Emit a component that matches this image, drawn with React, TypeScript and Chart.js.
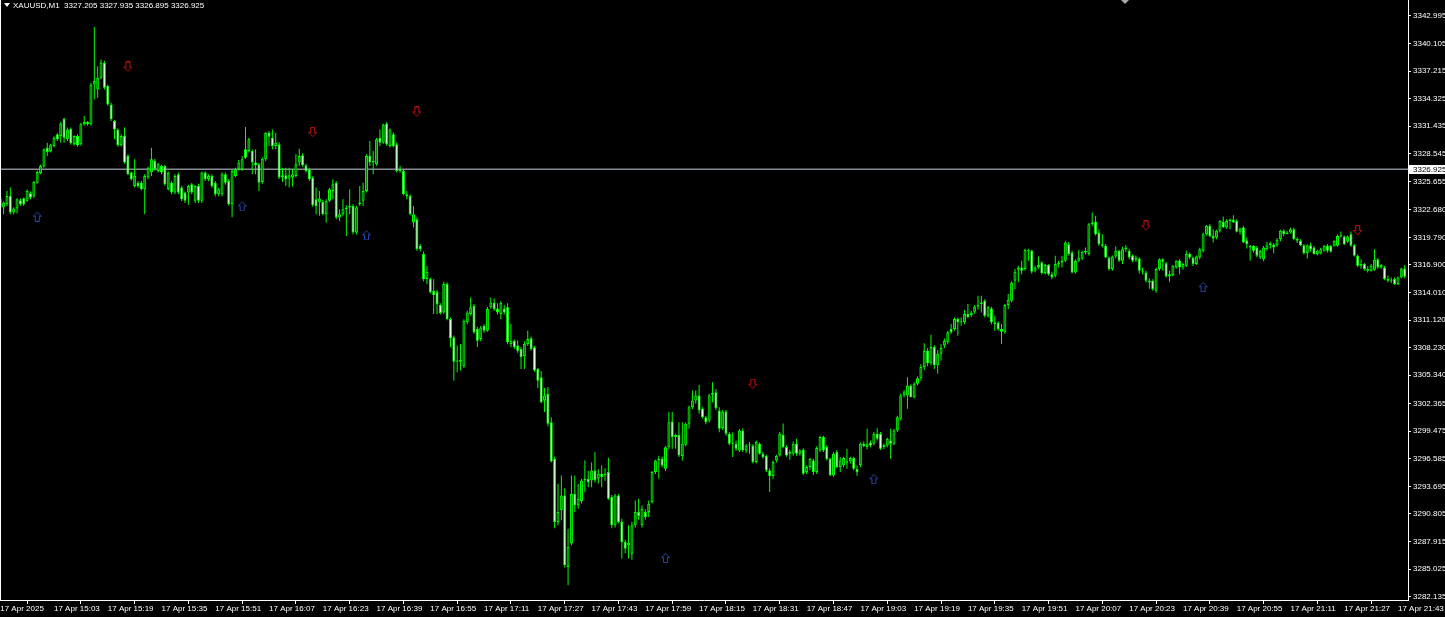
import React, { useEffect, useRef } from "react";
import { Chart, registerables } from "chart.js";

Chart.register(...registerables);

// ---------- header ----------
const symbolName = "XAUUSD,M1";
const headerQuote = ["3327.205", "3327.935", "3326.895", "3326.925"];
const currentPrice = 3326.925;

// ---------- OHLC (one-minute bars, 17 Apr 14:47 .. 21:45) ----------
const opens = [
3323.89,3322.92,3323.27,3324.14,3322.40,3322.81,3323.69,3323.89,3323.62,3324.42,
3324.07,3325.53,3326.51,3327.21,3329.19,3328.85,3329.37,3330.59,3330.42,3332.23,
3330.07,3331.18,3329.54,3330.42,3329.54,3331.64,3331.88,3331.64,3335.82,3335.30,
3336.52,3338.09,3335.65,3333.73,3331.98,3331.11,3329.44,3330.42,3328.32,3326.58,
3325.18,3325.53,3325.53,3324.84,3326.06,3326.58,3327.80,3326.75,3327.28,3327.28,
3324.84,3325.53,3324.49,3326.41,3325.01,3324.49,3324.49,3325.36,3323.62,3325.18,
3323.62,3326.58,3325.88,3326.23,3325.53,3324.31,3324.31,3326.41,3325.71,3323.27,
3326.23,3326.93,3326.93,3329.02,3328.85,3328.85,3327.63,3327.45,3325.60,3327.97,
3330.76,3330.24,3329.37,3329.54,3326.06,3326.30,3325.95,3326.06,3326.23,3327.63,
3328.39,3327.35,3326.93,3326.06,3323.79,3323.44,3323.51,3322.22,3323.62,3324.66,
3325.53,3321.87,3322.22,3322.74,3322.92,3323.09,3320.30,3323.27,3323.62,3324.66,
3328.32,3327.63,3327.45,3330.24,3329.72,3331.74,3329.37,3330.59,3329.54,3326.75,
3326.75,3324.31,3324.14,3321.35,3321.70,3318.91,3318.04,3315.42,3315.42,3314.20,
3314.09,3312.70,3311.93,3314.90,3311.24,3309.32,3306.88,3306.77,3306.28,3310.89,
3311.76,3312.63,3310.19,3309.14,3310.54,3310.01,3312.46,3312.91,3312.35,3311.76,
3312.35,3312.46,3308.62,3308.97,3308.45,3308.10,3307.33,3308.62,3309.21,3308.27,
3306.01,3305.13,3302.69,3303.39,3300.43,3296.59,3289.97,3291.19,3292.75,3285.26,
3287.70,3292.93,3291.71,3292.13,3294.32,3294.50,3294.32,3295.37,3294.50,3295.02,
3294.85,3295.20,3292.58,3289.62,3292.75,3289.97,3287.87,3287.52,3286.65,3289.62,
3291.01,3289.62,3291.01,3291.01,3292.06,3295.20,3296.42,3296.59,3295.54,3297.81,
3300.50,3298.86,3299.10,3296.87,3298.06,3300.26,3302.00,3302.70,3303.22,3301.83,
3300.95,3300.61,3303.29,3303.57,3301.65,3299.80,3301.55,3299.21,3298.16,3298.16,
3297.47,3299.56,3297.47,3297.99,3297.99,3296.25,3298.16,3297.12,3296.87,3295.37,
3294.78,3296.42,3296.94,3299.11,3297.82,3297.12,3297.12,3298.16,3297.12,3297.54,
3295.20,3295.72,3296.42,3295.20,3297.47,3298.86,3297.82,3296.59,3294.85,3297.29,
3295.72,3295.90,3296.32,3296.32,3296.66,3295.55,3295.90,3298.16,3297.82,3298.27,
3298.16,3299.21,3299.21,3297.82,3297.99,3298.51,3298.16,3299.56,3300.78,3303.22,
3303.22,3304.27,3303.05,3304.44,3305.03,3306.20,3307.90,3306.60,3308.30,3306.40,
3307.60,3308.45,3308.80,3310.19,3310.19,3311.24,3310.89,3310.89,3311.76,3311.66,
3312.00,3312.56,3312.81,3313.15,3311.59,3312.35,3310.89,3310.82,3310.19,3309.84,
3312.70,3313.15,3315.25,3316.40,3316.64,3316.47,3318.49,3318.39,3316.29,3316.64,
3317.16,3316.05,3316.89,3315.94,3315.77,3316.99,3317.16,3317.34,3319.08,3318.21,
3316.12,3317.34,3317.58,3318.21,3318.04,3321.17,3321.42,3320.30,3319.08,3318.91,
3317.69,3316.47,3317.79,3318.39,3317.34,3318.56,3318.39,3317.86,3317.44,3317.58,
3316.29,3316.12,3315.25,3315.25,3314.20,3316.47,3317.51,3317.09,3315.70,3315.84,
3316.64,3317.34,3316.64,3316.82,3318.04,3317.69,3316.99,3317.69,3318.39,3320.13,
3321.00,3319.95,3319.78,3320.48,3321.42,3320.83,3321.52,3321.63,3321.52,3320.37,
3320.83,3319.50,3318.91,3318.91,3318.73,3317.69,3317.51,3318.56,3318.98,3319.01,
3318.98,3319.61,3320.48,3320.13,3320.30,3320.65,3319.61,3319.43,3318.98,3318.14,
3318.98,3318.73,3318.04,3318.14,3318.39,3318.91,3318.91,3318.91,3318.91,3320.02,
3319.88,3319.33,3320.13,3318.98,3317.86,3316.82,3316.99,3316.47,3316.29,3316.40,
3317.51,3316.64,3316.64,3315.42,3315.25,3315.42,3314.90,3315.60,3316.54
];

const highs = [
3323.96,3323.55,3324.66,3325.01,3322.95,3323.90,3323.90,3323.96,3324.80,3324.60,
3325.70,3326.80,3327.40,3329.10,3329.72,3329.60,3330.40,3330.70,3331.88,3332.33,
3331.30,3331.30,3330.50,3330.60,3331.80,3332.51,3332.00,3336.00,3341.85,3337.74,
3338.44,3338.30,3335.80,3333.90,3332.10,3331.20,3330.60,3331.30,3328.50,3326.70,
3327.97,3325.70,3325.70,3326.40,3327.20,3329.19,3328.00,3327.60,3327.40,3327.40,
3326.70,3325.70,3326.40,3326.60,3325.20,3324.60,3325.30,3325.50,3325.30,3325.40,
3326.70,3326.70,3326.40,3326.40,3325.70,3325.00,3326.60,3326.60,3325.90,3326.90,
3327.10,3327.90,3328.32,3331.36,3330.20,3329.00,3329.02,3327.60,3328.20,3330.83,
3330.94,3331.11,3330.76,3329.80,3327.10,3327.10,3327.10,3326.93,3328.50,3329.09,
3328.60,3327.50,3327.10,3326.20,3325.01,3324.66,3323.70,3323.80,3325.00,3325.88,
3325.70,3322.74,3323.79,3323.16,3324.84,3323.30,3323.10,3325.18,3325.53,3328.50,
3329.89,3328.85,3330.20,3331.11,3331.70,3331.88,3331.20,3330.80,3329.70,3327.30,
3326.90,3324.66,3324.30,3323.09,3321.90,3319.10,3318.30,3316.80,3315.60,3315.40,
3314.30,3312.90,3315.14,3315.10,3311.40,3309.50,3308.45,3308.62,3311.20,3312.10,
3313.50,3312.80,3310.40,3310.50,3310.70,3312.50,3313.50,3313.40,3312.90,3313.10,
3312.70,3312.90,3310.71,3309.10,3309.00,3308.30,3308.90,3310.00,3309.40,3308.40,
3306.10,3305.80,3304.00,3304.10,3300.95,3296.80,3293.97,3294.85,3293.50,3289.27,
3294.85,3294.85,3293.97,3294.50,3296.42,3295.30,3296.20,3297.30,3295.50,3295.90,
3295.60,3296.70,3292.80,3292.90,3292.90,3290.30,3288.10,3289.62,3290.00,3292.23,
3292.40,3291.70,3291.30,3292.23,3295.30,3296.50,3296.90,3296.80,3297.90,3301.50,
3301.48,3299.21,3300.43,3300.43,3300.40,3302.17,3303.74,3303.74,3304.34,3302.00,
3301.10,3303.40,3304.61,3303.90,3302.00,3301.70,3301.70,3299.40,3299.38,3298.50,
3299.70,3299.80,3298.10,3298.34,3298.10,3298.50,3298.30,3297.30,3297.00,3295.60,
3296.40,3297.00,3299.40,3300.30,3298.00,3297.50,3298.40,3298.70,3297.60,3297.70,
3295.90,3296.70,3296.60,3297.90,3299.00,3299.00,3298.00,3296.70,3297.30,3297.50,
3296.77,3296.80,3297.64,3296.80,3296.80,3295.90,3298.30,3298.40,3299.73,3298.50,
3299.40,3299.80,3299.40,3298.20,3298.80,3299.73,3299.70,3301.10,3303.40,3303.80,
3305.14,3304.40,3304.60,3305.20,3306.50,3308.70,3308.20,3309.60,3308.50,3308.00,
3308.60,3309.20,3310.02,3310.71,3311.40,3311.40,3311.41,3312.18,3312.81,3312.10,
3312.70,3313.68,3313.68,3313.30,3312.60,3312.50,3311.59,3311.00,3310.71,3312.80,
3313.85,3315.20,3316.47,3316.82,3317.34,3318.60,3318.60,3318.50,3316.82,3317.79,
3317.30,3317.00,3317.00,3316.20,3317.86,3317.34,3317.86,3319.40,3319.30,3318.40,
3317.50,3318.49,3318.40,3318.73,3321.30,3322.40,3322.05,3320.65,3320.13,3319.10,
3317.80,3317.90,3318.84,3318.50,3318.80,3318.97,3318.60,3318.00,3317.90,3317.70,
3316.60,3316.30,3315.50,3315.40,3316.60,3317.60,3317.60,3317.20,3316.29,3316.90,
3317.40,3317.50,3317.10,3318.39,3318.20,3317.80,3317.90,3318.70,3320.30,3321.10,
3321.20,3320.65,3320.60,3321.60,3321.98,3321.70,3321.77,3322.12,3321.70,3320.80,
3321.00,3319.78,3319.00,3318.98,3318.90,3318.50,3318.90,3319.30,3319.33,3319.20,
3319.70,3320.60,3320.65,3320.50,3320.80,3320.80,3319.80,3319.60,3319.10,3319.08,
3319.26,3318.90,3318.50,3318.70,3319.00,3319.10,3319.00,3319.50,3320.10,3320.40,
3320.00,3320.00,3320.40,3319.10,3318.00,3317.51,3317.10,3316.80,3316.99,3318.56,
3317.60,3317.00,3316.80,3315.80,3315.60,3315.60,3315.70,3316.60,3316.90
];

const lows = [
3322.22,3322.22,3323.09,3322.22,3322.20,3322.30,3323.10,3323.09,3323.50,3323.80,
3323.95,3325.40,3326.40,3327.10,3328.32,3328.70,3329.20,3329.90,3329.72,3329.72,
3329.90,3329.50,3329.40,3329.30,3329.40,3331.50,3331.50,3331.50,3334.25,3334.43,
3336.40,3335.30,3333.60,3332.00,3330.07,3329.30,3329.30,3327.50,3326.30,3325.75,
3325.01,3325.00,3324.70,3322.22,3325.90,3326.23,3326.80,3326.60,3326.40,3325.20,
3324.70,3324.30,3324.30,3324.30,3323.60,3323.40,3323.20,3324.30,3323.40,3323.40,
3323.40,3325.70,3325.70,3325.00,3324.10,3324.10,3324.10,3325.30,3323.10,3321.90,
3326.10,3326.80,3326.75,3328.00,3328.70,3326.40,3326.40,3324.66,3325.40,3327.80,
3329.37,3329.02,3329.02,3325.90,3325.60,3325.18,3325.01,3325.11,3326.06,3327.28,
3327.20,3326.60,3325.70,3323.00,3322.22,3322.05,3322.10,3321.35,3323.50,3323.79,
3321.70,3321.52,3322.05,3319.95,3322.22,3320.10,3320.10,3323.09,3323.09,3324.50,
3327.28,3326.40,3327.30,3329.37,3329.60,3329.40,3329.20,3329.20,3326.60,3326.60,
3324.20,3323.79,3322.10,3320.82,3318.40,3318.30,3315.20,3314.90,3313.90,3311.76,
3311.76,3311.70,3311.80,3311.10,3308.27,3304.78,3305.66,3305.83,3306.10,3310.70,
3311.60,3309.70,3308.30,3308.90,3309.80,3309.90,3312.30,3312.10,3311.70,3311.20,
3311.70,3308.60,3308.27,3308.10,3307.70,3306.00,3306.00,3308.40,3307.90,3305.70,
3304.00,3302.40,3301.50,3300.00,3296.20,3289.30,3289.62,3290.14,3285.20,3283.34,
3287.52,3291.01,3291.36,3291.90,3293.10,3293.60,3293.60,3294.10,3294.00,3293.60,
3294.30,3292.30,3289.30,3289.40,3289.80,3286.13,3286.70,3286.13,3286.00,3289.40,
3290.20,3289.40,3290.20,3290.49,3291.90,3295.00,3294.50,3295.70,3295.30,3297.60,
3297.64,3297.64,3296.77,3296.42,3297.90,3299.73,3301.80,3302.35,3301.30,3300.80,
3300.20,3300.40,3302.52,3301.70,3299.38,3299.60,3299.00,3298.00,3296.77,3297.40,
3297.30,3297.30,3297.20,3297.12,3296.10,3296.10,3297.00,3296.60,3295.20,3293.11,
3294.50,3296.20,3296.80,3297.70,3296.80,3296.50,3296.90,3296.90,3296.90,3294.90,
3295.00,3295.40,3294.90,3295.00,3297.30,3297.30,3296.40,3294.80,3294.70,3295.60,
3295.20,3295.70,3295.55,3296.10,3295.40,3294.80,3295.70,3297.80,3297.60,3297.80,
3298.00,3298.50,3297.50,3297.60,3297.80,3296.59,3298.00,3299.40,3300.60,3303.00,
3301.83,3303.00,3302.90,3304.30,3304.80,3305.90,3306.30,3306.40,3306.00,3305.50,
3306.90,3308.20,3308.60,3309.67,3310.00,3309.49,3310.54,3310.70,3311.31,3311.41,
3311.80,3312.20,3311.93,3311.40,3311.40,3310.70,3310.02,3310.00,3308.62,3309.70,
3312.28,3313.00,3314.38,3315.07,3315.94,3316.30,3317.34,3316.00,3316.12,3316.50,
3315.90,3315.90,3315.80,3315.40,3315.60,3316.64,3316.64,3317.20,3317.90,3316.00,
3316.00,3317.23,3317.40,3318.00,3317.90,3321.00,3320.00,3318.91,3318.73,3317.60,
3316.30,3316.30,3317.60,3317.20,3316.99,3318.28,3317.50,3317.20,3317.20,3316.00,
3315.90,3315.10,3314.40,3314.20,3314.00,3316.30,3316.30,3315.60,3315.14,3315.70,
3316.50,3315.94,3316.40,3316.70,3317.50,3316.80,3316.90,3317.50,3318.20,3320.00,
3319.80,3319.26,3319.60,3320.30,3320.80,3320.70,3320.65,3321.30,3320.30,3320.10,
3319.20,3318.63,3317.34,3318.21,3317.70,3317.50,3317.30,3318.40,3318.60,3318.14,
3318.80,3319.40,3319.95,3320.13,3320.20,3319.50,3319.20,3318.90,3318.00,3317.58,
3318.28,3318.00,3317.90,3318.00,3318.30,3318.20,3318.20,3318.80,3318.80,3319.80,
3319.00,3319.20,3318.80,3317.80,3316.70,3316.50,3316.30,3316.10,3316.20,3316.30,
3316.50,3316.50,3315.30,3315.10,3315.00,3314.80,3314.80,3315.50,3315.50
];

const closes = [
3322.92,3323.44,3324.14,3322.40,3322.81,3323.79,3323.27,3323.27,3324.66,3323.96,
3325.60,3326.65,3327.28,3329.02,3328.74,3329.44,3330.24,3330.07,3331.74,3330.24,
3331.11,3329.65,3330.42,3329.44,3331.64,3331.88,3331.64,3335.82,3336.17,3336.52,
3338.09,3335.47,3333.73,3332.16,3331.11,3329.44,3330.42,3327.63,3326.41,3325.88,
3326.23,3325.18,3324.84,3326.23,3327.10,3327.97,3326.93,3327.45,3326.58,3325.36,
3326.58,3324.49,3326.23,3324.49,3323.79,3323.62,3325.18,3324.49,3325.18,3323.62,
3326.58,3325.88,3326.23,3325.18,3324.31,3324.84,3326.41,3325.53,3323.27,3326.75,
3326.93,3327.63,3327.97,3328.15,3330.07,3327.63,3327.35,3325.53,3328.04,3330.76,
3330.34,3329.37,3329.72,3326.06,3326.30,3325.88,3326.30,3326.40,3327.45,3328.32,
3327.35,3326.75,3325.88,3323.16,3323.09,3323.86,3322.22,3323.62,3324.84,3325.36,
3321.87,3322.22,3322.74,3322.92,3323.09,3320.30,3322.92,3323.44,3324.66,3328.32,
3327.63,3327.80,3330.07,3329.72,3331.63,3329.54,3331.11,3329.37,3326.75,3326.93,
3324.31,3324.14,3322.22,3322.22,3318.56,3318.56,3315.42,3316.20,3314.03,3313.75,
3312.80,3311.86,3314.90,3311.24,3309.21,3306.77,3306.77,3306.95,3311.06,3311.93,
3312.46,3309.84,3308.97,3310.36,3310.01,3312.28,3312.98,3312.28,3311.93,3312.91,
3311.93,3308.79,3308.97,3308.27,3307.92,3307.23,3308.62,3309.14,3308.10,3305.83,
3304.78,3302.52,3303.22,3300.25,3296.31,3289.97,3291.01,3292.75,3285.43,3287.35,
3292.93,3291.71,3292.41,3294.32,3294.50,3294.15,3295.37,3294.32,3295.02,3294.67,
3295.02,3292.41,3289.62,3292.75,3289.97,3287.87,3287.17,3287.80,3289.62,3291.01,
3290.59,3291.36,3290.49,3291.88,3295.20,3296.42,3296.59,3295.89,3297.81,3300.43,
3298.86,3299.10,3296.94,3298.16,3300.26,3302.00,3302.70,3303.22,3301.65,3300.95,
3300.43,3303.22,3303.50,3301.90,3299.73,3301.55,3299.21,3298.16,3298.27,3297.64,
3299.56,3297.47,3297.99,3298.06,3296.25,3298.34,3297.12,3296.77,3295.37,3294.78,
3296.25,3296.87,3299.21,3297.82,3296.94,3297.29,3298.16,3297.12,3297.47,3295.03,
3295.72,3296.59,3295.20,3297.71,3298.86,3297.47,3296.53,3294.85,3297.12,3295.72,
3296.42,3296.66,3296.18,3296.66,3295.55,3295.20,3298.16,3297.92,3298.16,3297.99,
3299.21,3298.69,3297.64,3298.06,3298.69,3298.16,3299.56,3300.95,3303.22,3303.57,
3304.27,3303.05,3304.44,3305.03,3306.20,3307.90,3306.60,3308.30,3306.40,3307.60,
3308.20,3308.97,3309.84,3309.84,3311.24,3310.89,3310.96,3311.76,3311.41,3311.93,
3312.56,3312.70,3312.98,3311.59,3312.46,3310.89,3310.71,3310.19,3309.91,3312.70,
3313.22,3315.07,3316.19,3316.64,3316.29,3318.49,3318.39,3316.19,3316.64,3316.89,
3316.05,3316.89,3315.94,3315.60,3316.99,3317.16,3317.34,3319.26,3318.04,3316.12,
3317.34,3317.69,3318.28,3318.39,3321.17,3321.35,3320.13,3319.08,3318.91,3317.69,
3316.47,3317.79,3318.39,3317.34,3318.56,3318.73,3317.69,3317.34,3317.69,3316.29,
3316.19,3315.25,3315.07,3314.38,3316.47,3317.51,3317.23,3315.70,3315.94,3316.82,
3317.34,3316.64,3316.99,3318.04,3317.69,3316.99,3317.79,3318.56,3320.13,3321.00,
3319.95,3319.68,3320.48,3321.52,3320.83,3321.52,3321.63,3321.35,3320.37,3320.72,
3319.26,3319.08,3318.73,3318.39,3317.86,3318.39,3318.73,3318.98,3319.19,3318.73,
3319.54,3320.48,3320.13,3320.30,3320.65,3319.61,3319.43,3318.98,3318.14,3318.98,
3318.56,3318.04,3318.39,3318.56,3318.91,3318.39,3318.28,3319.43,3319.95,3319.88,
3319.08,3319.88,3318.91,3317.86,3316.82,3316.99,3316.47,3316.29,3316.82,3317.44,
3316.64,3316.89,3315.42,3315.25,3315.35,3314.90,3315.60,3316.54,3315.70
];

// ---------- signal arrows (bar index, price) ----------
const sellArrowBars = [38, 93, 124, 224, 341, 404];
const sellArrowPrices = [3337.65, 3330.80, 3332.94, 3304.41, 3321.00, 3320.52];
const buyArrowBars = [11, 72, 109, 198, 260, 358];
const buyArrowPrices = [3322.01, 3323.09, 3320.05, 3286.24, 3294.50, 3314.62];

// ---------- axes ----------
const priceTicks = [
  3342.995, 3340.105, 3337.215, 3334.325, 3331.435, 3328.545, 3325.655,
  3322.680, 3319.790, 3316.900, 3314.010, 3311.120, 3308.230, 3305.340,
  3302.365, 3299.475, 3296.585, 3293.695, 3290.805, 3287.915, 3285.025, 3282.135,
];
const timeTickBars = [
  0, 16, 32, 48, 64, 80, 96, 112, 128, 144, 160, 176, 192, 208,
  224, 240, 256, 272, 288, 304, 320, 336, 352, 368, 384, 400, 416,
];
const timeTickLabels = [
  "17 Apr 2025", "17 Apr 15:03", "17 Apr 15:19", "17 Apr 15:35", "17 Apr 15:51",
  "17 Apr 16:07", "17 Apr 16:23", "17 Apr 16:39", "17 Apr 16:55", "17 Apr 17:11",
  "17 Apr 17:27", "17 Apr 17:43", "17 Apr 17:59", "17 Apr 18:15", "17 Apr 18:31",
  "17 Apr 18:47", "17 Apr 19:03", "17 Apr 19:19", "17 Apr 19:35", "17 Apr 19:51",
  "17 Apr 20:07", "17 Apr 20:23", "17 Apr 20:39", "17 Apr 20:55", "17 Apr 21:11",
  "17 Apr 21:27", "17 Apr 21:43",
];
const priceMin = 3281.79;
const priceMax = 3344.67;
const barMin = -0.07;
const barMax = 418.98;

const FONT = { family: "'Liberation Sans', Arial, sans-serif", size: 8 };
const LIME = "#00ff00";
const BULL_FILL = "#007a00";
const BEAR_FILL = "#e4ffe4";

function makeArrow(color: string, up: boolean): HTMLCanvasElement {
  const c = document.createElement("canvas");
  c.width = 9;
  c.height = 11;
  const g = c.getContext("2d")!;
  const pts: [number, number][] = [
    [2.5, 0.5], [6.5, 0.5], [6.5, 5.5], [8.5, 5.5], [4.5, 9.8], [0.5, 5.5], [2.5, 5.5],
  ];
  g.strokeStyle = color;
  g.lineWidth = 1;
  g.beginPath();
  pts.forEach(([x, y], i) => {
    const yy = up ? 11 - y : y;
    if (i === 0) g.moveTo(x, yy);
    else g.lineTo(x, yy);
  });
  g.closePath();
  g.stroke();
  return c;
}

const decorPlugin = {
  id: "mtDecor",
  beforeDraw(chart: any) {
    const ctx = chart.ctx;
    ctx.save();
    ctx.fillStyle = "#000000";
    ctx.fillRect(0, 0, chart.width, chart.height);
    ctx.restore();
  },
  afterDraw(chart: any) {
    const ctx = chart.ctx;
    const area = chart.chartArea;
    const ys = chart.scales.y;
    ctx.save();
    // left frame line
    ctx.fillStyle = "#ffffff";
    ctx.fillRect(0, area.top, 1, area.bottom - area.top);
    // chart shift marker
    ctx.fillStyle = "#a8a8a8";
    ctx.beginPath();
    ctx.moveTo(1121, 0);
    ctx.lineTo(1129, 0);
    ctx.lineTo(1125, 4);
    ctx.closePath();
    ctx.fill();
    // current price label
    const py = Math.round(ys.getPixelForValue(currentPrice));
    ctx.fillStyle = "#ffffff";
    ctx.fillRect(area.right + 1, py - 4, chart.width - area.right - 1, 9);
    ctx.fillStyle = "#000000";
    ctx.font = "8px 'Liberation Sans', Arial, sans-serif";
    ctx.textBaseline = "middle";
    ctx.textAlign = "left";
    ctx.fillText(currentPrice.toFixed(3), area.right + 5, py + 0.5);
    ctx.restore();
  },
};

export default function App() {
  const canvasRef = useRef<HTMLCanvasElement | null>(null);

  useEffect(() => {
    const canvas = canvasRef.current;
    if (!canvas) return;
    const idx = opens.map((_, i) => i);
    const wickData = idx.map((i) => ({ x: i, y: [lows[i], highs[i]] }));
    const bodyData = idx.map((i) => ({ x: i, y: [opens[i], closes[i]] }));
    const bodyFill = idx.map((i) => (closes[i] >= opens[i] ? BULL_FILL : BEAR_FILL));
    const sellData = sellArrowBars.map((b, i) => ({ x: b, y: sellArrowPrices[i] }));
    const buyData = buyArrowBars.map((b, i) => ({ x: b, y: buyArrowPrices[i] }));

    const chart = new Chart(canvas, {
      type: "bar",
      data: {
        datasets: [
          {
            type: "scatter",
            data: sellData,
            pointStyle: makeArrow("#c81010", false) as any,
            pointRadius: 5,
            order: 0,
          } as any,
          {
            type: "scatter",
            data: buyData,
            pointStyle: makeArrow("#2a48a8", true) as any,
            pointRadius: 5,
            order: 0,
          } as any,
          {
            type: "bar",
            data: bodyData,
            backgroundColor: bodyFill,
            borderColor: LIME,
            borderWidth: 1,
            borderSkipped: false,
            barThickness: 3,
            minBarLength: 1,
            inflateAmount: 0,
            grouped: false,
            order: 1,
          } as any,
          {
            type: "bar",
            data: wickData,
            backgroundColor: LIME,
            borderWidth: 0,
            barThickness: 1,
            minBarLength: 1,
            inflateAmount: 0,
            grouped: false,
            order: 2,
          } as any,
          {
            type: "line",
            data: [
              { x: barMin, y: currentPrice },
              { x: barMax, y: currentPrice },
            ],
            borderColor: "#868b94",
            borderWidth: 1.5,
            pointRadius: 0,
            order: 3,
          } as any,
        ],
      },
      options: {
        responsive: false,
        maintainAspectRatio: false,
        devicePixelRatio: 1,
        animation: false,
        events: [],
        layout: { padding: 0, autoPadding: false },
        plugins: {
          legend: { display: false },
          tooltip: { enabled: false },
          title: { display: false },
        },
        scales: {
          x: {
            type: "linear",
            position: "bottom",
            min: barMin,
            max: barMax,
            offset: false,
            grid: {
              display: true,
              drawOnChartArea: false,
              drawTicks: true,
              tickLength: 4,
              color: "#ffffff",
              lineWidth: 1,
            },
            border: { display: true, color: "#ffffff", width: 1 },
            ticks: {
              autoSkip: false,
              maxRotation: 0,
              minRotation: 0,
              align: "start",
              padding: 0,
              color: "#ffffff",
              font: FONT,
              callback: (_v: any, i: number) => timeTickLabels[i],
            },
            afterBuildTicks: (s: any) => {
              s.ticks = timeTickBars.map((v) => ({ value: v }));
            },
            afterFit: (s: any) => {
              s.height = 17;
              s.paddingLeft = 0;
              s.paddingRight = 0;
            },
          } as any,
          y: {
            type: "linear",
            position: "right",
            min: priceMin,
            max: priceMax,
            grid: {
              display: true,
              drawOnChartArea: false,
              drawTicks: true,
              tickLength: 3,
              color: "#ffffff",
              lineWidth: 1,
            },
            border: { display: true, color: "#ffffff", width: 1 },
            ticks: {
              autoSkip: false,
              padding: 2,
              color: "#ffffff",
              font: FONT,
              callback: (v: any) => Number(v).toFixed(3),
            },
            afterBuildTicks: (s: any) => {
              s.ticks = priceTicks.map((v) => ({ value: v }));
            },
            afterFit: (s: any) => {
              s.width = 37;
              s.paddingTop = 0;
              s.paddingBottom = 0;
            },
          } as any,
        },
      },
      plugins: [decorPlugin],
    });
    return () => chart.destroy();
  }, []);

  return (
    <div
      style={{
        position: "fixed",
        left: 0,
        top: 0,
        width: 1445,
        height: 617,
        background: "#000",
        overflow: "hidden",
      }}
    >
      <canvas
        ref={canvasRef}
        width={1445}
        height={617}
        style={{ position: "absolute", left: 0, top: 0, width: 1445, height: 617, display: "block" }}
      />
      <div
        style={{
          position: "absolute",
          left: 4,
          top: 3,
          width: 0,
          height: 0,
          borderLeft: "3px solid transparent",
          borderRight: "3px solid transparent",
          borderTop: "4px solid #ffffff",
        }}
      />
      <div
        style={{
          position: "absolute",
          left: 13,
          top: 0,
          color: "#ffffff",
          font: "8px 'Liberation Sans', Arial, sans-serif",
          lineHeight: "11px",
          whiteSpace: "pre",
        }}
      >
        {symbolName + "  " + headerQuote.join(" ")}
      </div>
    </div>
  );
}
